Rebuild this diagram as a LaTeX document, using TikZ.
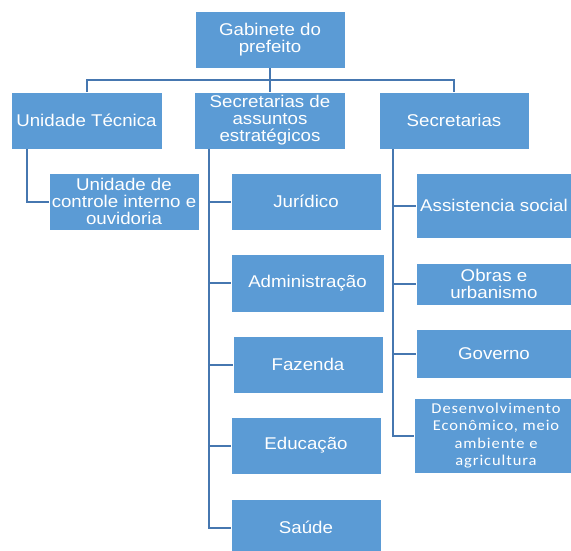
\documentclass[tikz,border=0pt]{standalone}
\usepackage{fontspec}
\setmainfont[FakeStretch=1.1]{Liberation Sans}
\newfontfamily\calfont[FakeStretch=1.1,LetterSpace=6]{Carlito}
\usetikzlibrary{positioning,calc}
\definecolor{boxblue}{HTML}{5B9BD5}
\definecolor{lineblue}{HTML}{4677B0}

\begin{document}
\begin{tikzpicture}[x=1pt,y=-1pt,
  box/.style={rectangle,fill=boxblue,draw=white,line width=0.8pt,text=white,
    align=center,inner sep=0pt,font=\fontsize{17}{16.9}\selectfont},
  conn/.style={draw=lineblue,line width=2pt}]
\useasboundingbox (0,0) rectangle (571,551);

\node[box,minimum width=150,minimum height=57] (gab) at (270,39.5) {Gabinete do\\prefeito};

% LEVEL 1

\node[box,minimum width=151,minimum height=57] (unid)   at (86.5,120.5) {Unidade Técnica};
\node[box,minimum width=151,minimum height=57] (secass) at (270,120.5)  {Secretarias de\\assuntos\\estratégicos};
\node[box,minimum width=150,minimum height=57] (sec)    at (454,120.5)  {Secretarias};

\coordinate (bus) at (270,80);
\draw[conn] (unid.north) |- (bus) -| (sec.north);
\draw[conn] (gab.south) -- (secass.north);

% UNIDADE TECNICA

\node[box,minimum width=150,minimum height=57] (ctrl) at (124,201.5) {Unidade de\\controle interno e\\ouvidoria};

\draw[conn] ([xshift=16pt]unid.south west) |- (ctrl.west);

% SECRETARIAS DE ASSUNTOS ESTRATEGICOS

\node[box,minimum width=150,minimum height=57] (jur) at (306,201.5)   {Jurídico};
\node[box,minimum width=153,minimum height=58] (adm) at (307.5,283)   {Administração};
\node[box,minimum width=150,minimum height=57] (faz) at (308,364.5)   {Fazenda};
\node[box,minimum width=150,minimum height=57] (edu) at (306,445.5)   {Educação};
\node[box,minimum width=150,minimum height=57] (sau) at (306,527.5)   {Saúde};

\draw[conn] ([xshift=15pt]secass.south west) |- (jur.west);
\draw[conn] ([xshift=15pt]secass.south west) |- (adm.west);
\draw[conn] ([xshift=15pt]secass.south west) |- (faz.west);
\draw[conn] ([xshift=15pt]secass.south west) |- (edu.west);
\draw[conn] ([xshift=15pt]secass.south west) |- (sau.west);

% SECRETARIAS

\node[box,minimum width=156,minimum height=65] (ass) at (494,205.5) {Assistencia social};
\node[box,minimum width=156,minimum height=42] (obr) at (494,284)   {Obras e\\urbanismo};
\node[box,minimum width=156,minimum height=49] (gov) at (494,353.5) {Governo};
\node[box,minimum width=164,minimum height=75,font=\calfont\fontsize{15}{17.3}\selectfont] (des) at (496,435.5)
  {Desenvolvimento\\Econômico, meio\\ambiente e\\agricultura};

\draw[conn] ([xshift=14pt]sec.south west) |- (ass.west);
\draw[conn] ([xshift=14pt]sec.south west) |- (obr.west);
\draw[conn] ([xshift=14pt]sec.south west) |- (gov.west);
\draw[conn] ([xshift=14pt]sec.south west) |- (des.west);

\end{tikzpicture}
\end{document}
